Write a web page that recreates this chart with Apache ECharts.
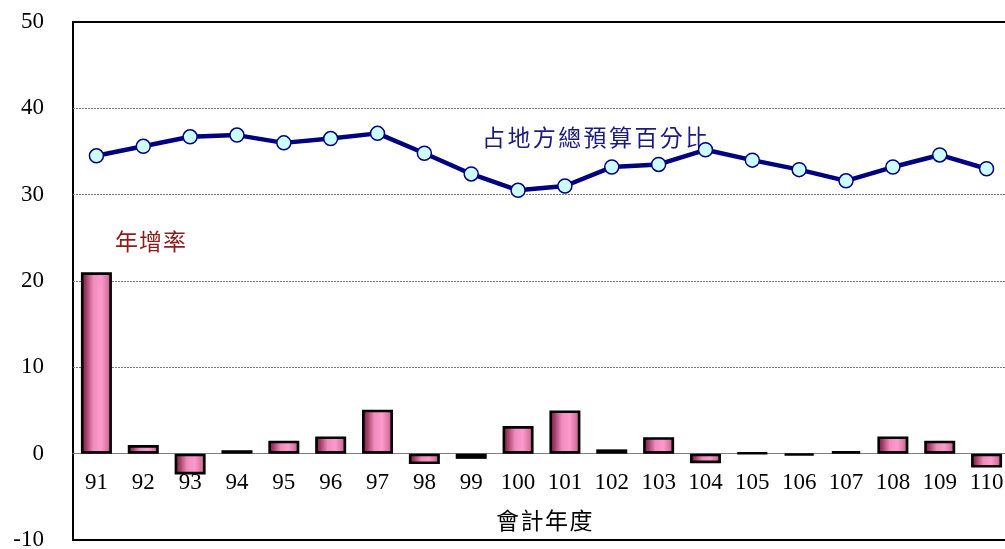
<!DOCTYPE html>
<html>
<head>
<meta charset="utf-8">
<script src="https://cdn.jsdelivr.net/npm/echarts@6/dist/echarts.min.js"></script>
<style>
  html, body { margin: 0; padding: 0; background: #fff; }
  #chart { width: 1005px; height: 549px; }
</style>
</head>
<body>
<div id="chart"></div>
<script>
// 會計年度
const years = ['91','92','93','94','95','96','97','98','99','100',
               '101','102','103','104','105','106','107','108','109','110'];
// 年增率 (%)
const growthRate = [21.0, 1.0, -2.4, 0.4, 1.5, 2.0, 5.1, -1.2, -0.6, 3.2,
                    5.0, 0.5, 1.9, -1.1, 0.1, -0.2, 0.3, 2.0, 1.5, -1.6];
// 占地方總預算百分比 (%)
const shareOfLocal = [34.5, 35.6, 36.7, 36.9, 36.0, 36.5, 37.1, 34.8, 32.4, 30.5,
                      31.0, 33.2, 33.5, 35.2, 34.0, 32.9, 31.6, 33.2, 34.6, 33.0];
const yTicks = { min: -10, max: 50, step: 10 };

const serif = '"Liberation Serif", "Times New Roman", serif';
const cjk = '"Noto Sans CJK TC", "Noto Sans CJK SC", sans-serif';

const plot = { left: 73, top: 22, width: 937, height: 518 };
// distance from the bottom edge of the plot up to the zero line
const zeroLift = plot.height * (0 - yTicks.min) / (yTicks.max - yTicks.min);

// lay out a label one glyph at a time so the characters keep a wide spacing
function spacedText(str, x, y, pitch, size, color) {
  return {
    type: 'group', x: x, y: y, silent: true,
    children: Array.from(str).map((ch, i) => ({
      type: 'text', x: i * pitch, y: 0,
      style: { text: ch, fill: color, font: size + 'px ' + cjk,
               textAlign: 'left', textVerticalAlign: 'middle' }
    }))
  };
}

const chart = echarts.init(document.getElementById('chart'));
chart.setOption({
  animation: false,
  backgroundColor: '#fff',
  grid: {
    left: plot.left, top: plot.top, width: plot.width, height: plot.height,
    containLabel: false,
    outerBoundsMode: 'none',
    show: true, borderColor: '#000', borderWidth: 2, backgroundColor: 'transparent'
  },
  xAxis: {
    type: 'category',
    data: years,
    // category axis sits on the zero line of the value axis
    offset: -zeroLift,
    axisLine: { onZero: false, lineStyle: { color: '#808080', width: 1 } },
    axisTick: { inside: true, length: 6, lineStyle: { color: '#808080' } },
    axisLabel: { fontFamily: serif, fontSize: 23, color: '#000', margin: 18 },
    splitLine: { show: false }
  },
  yAxis: {
    type: 'value',
    min: yTicks.min, max: yTicks.max, interval: yTicks.step,
    axisLine: { show: false },
    axisTick: { show: false },
    axisLabel: { fontFamily: serif, fontSize: 23, color: '#000', margin: 29 },
    splitLine: {
      lineStyle: {
        type: [2, 1], width: 1,
        color: ['transparent', '#7a7a7a', '#7a7a7a', '#7a7a7a', '#7a7a7a', '#7a7a7a']
      }
    }
  },
  series: [
    {
      name: '年增率',
      type: 'bar',
      data: growthRate,
      barWidth: 31,
      z: 2,
      itemStyle: {
        borderColor: '#000', borderWidth: 2.6,
        color: new echarts.graphic.LinearGradient(0, 0, 1, 0, [
          { offset: 0, color: '#6a1836' },
          { offset: 0.15, color: '#9a3860' },
          { offset: 0.4, color: '#f08cbc' },
          { offset: 0.65, color: '#ff9acc' },
          { offset: 0.87, color: '#d473a0' },
          { offset: 1, color: '#842a4e' }
        ])
      }
    },
    {
      name: '占地方總預算百分比',
      type: 'line',
      data: shareOfLocal,
      z: 5,
      symbol: 'circle',
      symbolSize: 14,
      lineStyle: { color: '#000080', width: 4.5 },
      itemStyle: { color: '#ccffff', borderColor: '#000080', borderWidth: 1.5 }
    }
  ],
  graphic: [
    spacedText('占地方總預算百分比', 482, 137, 25.4, 23, '#1a1a80'),
    spacedText('年增率', 115, 241, 24, 23, '#8b1c1c'),
    spacedText('會計年度', 496, 520, 24.5, 23, '#000')
  ]
});
</script>
</body>
</html>
